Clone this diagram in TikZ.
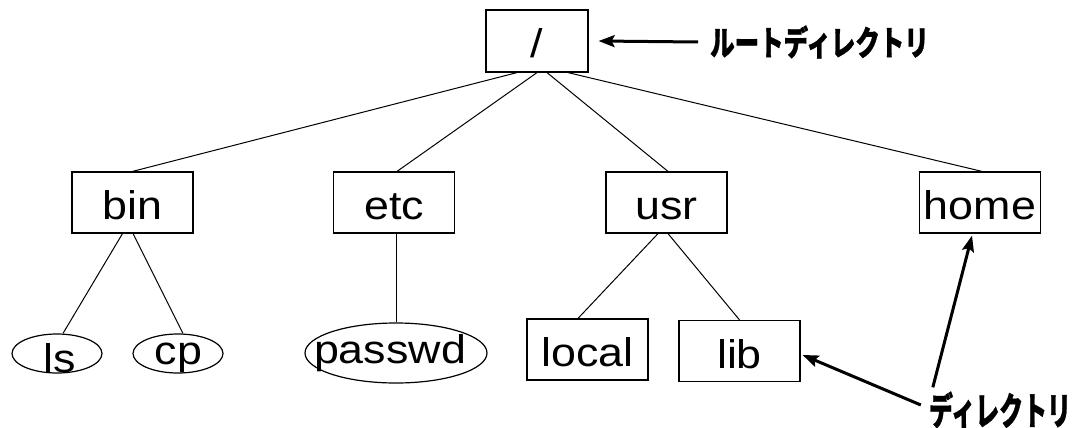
\documentclass[tikz,border=0pt]{standalone}
\usepackage{fontspec}
\setmainfont{Liberation Sans}[FakeStretch=1.12]
\newfontfamily\jpfont{Noto Sans CJK JP}[BoldFeatures={FakeBold=1.2}]
\usetikzlibrary{arrows.meta,shapes.geometric}

\begin{document}
\begin{tikzpicture}[x=1pt,y=-1pt,
  treeline/.style={line width=1pt},
  dirbox/.style={draw, line width=1.2pt, minimum width=121pt, minimum height=61pt,
    inner sep=0pt, text height=34pt, text depth=0pt, font=\fontsize{40}{48}\selectfont},
  filebox/.style={draw, ellipse, line width=1.2pt, inner sep=0pt},
  filename/.style={anchor=base, inner sep=0pt, font=\fontsize{40}{48}\selectfont},
  pointer/.style={line width=3pt, -{Stealth[length=16pt,width=12pt,inset=3pt]}},
  note/.style={inner sep=0pt, font=\jpfont\bfseries}
]
\useasboundingbox (0,0) rectangle (1073,428);

% directories
\node[dirbox, minimum width=102pt, minimum height=62pt] (root) at (537,41) {/};
\node[dirbox] (bin)   at (132.5,202.5) {bin};
\node[dirbox] (etc)   at (394,202.5)   {etc};
\node[dirbox] (usr)   at (666.5,202.5) {usr};
\node[dirbox] (home)  at (980,202.5)   {home};
\node[dirbox] (local) at (587.5,349.5) {local};
\node[dirbox] (lib)   at (739.5,351)   {lib};

% files
\node[filebox, minimum width=90pt, minimum height=39pt]  (ls)     at (57,353.5)  {};
\node[filebox, minimum width=90pt, minimum height=39pt]  (cp)     at (178,353.5) {};
\node[filebox, minimum width=182pt, minimum height=60pt] (passwd) at (396,353)   {};
\node[filename] (lsname)     at (59.5,372)  {ls};
\node[filename] (cpname)     at (178.5,364) {cp};
\node[filename] (passwdname) at (390,363)   {passwd};

% tree edges
\draw[treeline] ([xshift=-20pt]root.south) -- (bin.north);
\draw[treeline] (root.south) -- ([xshift=3pt]etc.north);
\draw[treeline] ([xshift=10pt]root.south) -- ([xshift=1.5pt]usr.north);
\draw[treeline] ([xshift=31pt]root.south) -- ([xshift=2pt]home.north);
\draw[treeline] ([xshift=-10pt]bin.south) -- ([xshift=6pt]ls.north);
\draw[treeline] ([xshift=0.5pt]bin.south) -- ([xshift=5pt]cp.north);
\draw[treeline] ([xshift=2pt]etc.south) -- (passwd.north);
\draw[treeline] ([xshift=-8.5pt]usr.south) -- ([xshift=-9.5pt]local.north);
\draw[treeline] ([xshift=1.5pt]usr.south) -- (lib.north);

% annotations
\node[note, anchor=west] (rootnote) at (710,42)
  {\scalebox{0.72}[1]{\fontsize{34}{38}\selectfont ルートディレクトリ}};
\node[note] (dirnote) at (1000,410)
  {\scalebox{0.63}[1]{\fontsize{38}{42}\selectfont ディレクトリ}};

\draw[pointer] ([xshift=-12pt]rootnote.west) -- ([xshift=10pt]root.east);
\draw[pointer] ([shift={(-8pt,5pt)}]dirnote.west) -- ([shift={(2pt,-4pt)}]lib.east);
\draw[pointer] ([shift={(4pt,4pt)}]dirnote.north west) -- ([shift={(-8pt,-2pt)}]home.south);
\end{tikzpicture}
\end{document}
